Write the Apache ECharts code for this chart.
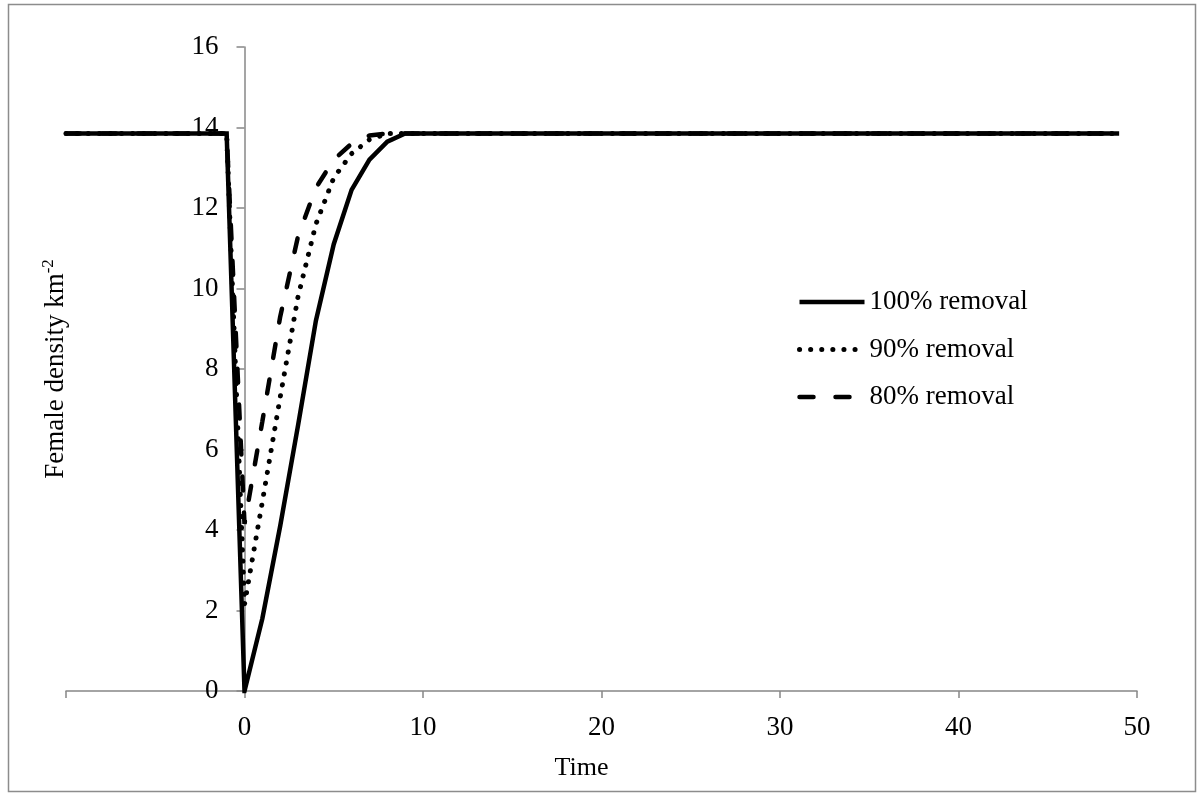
<!DOCTYPE html>
<html>
<head>
<meta charset="utf-8">
<script src="https://cdn.jsdelivr.net/npm/echarts@6/dist/echarts.min.js"></script>
<style>
html,body{margin:0;padding:0;background:#fff;}
#chart{width:1198px;height:793px;}
</style>
</head>
<body>
<div id="chart"></div>
<script>
var time = [-10,-9,-8,-7,-6,-5,-4,-3,-2,-1,0,1,2,3,4,5,6,7,8,9,10,11,12,13,14,15,16,17,18,19,20,21,22,23,24,25,26,27,28,29,30,31,32,33,34,35,36,37,38,39,40,41,42,43,44,45,46,47,48,49];
var removal100 = [13.85,13.85,13.85,13.85,13.85,13.85,13.85,13.85,13.85,13.85,0,1.8,4.1,6.6,9.2,11.1,12.45,13.2,13.65,13.85,13.85,13.85,13.85,13.85,13.85,13.85,13.85,13.85,13.85,13.85,13.85,13.85,13.85,13.85,13.85,13.85,13.85,13.85,13.85,13.85,13.85,13.85,13.85,13.85,13.85,13.85,13.85,13.85,13.85,13.85,13.85,13.85,13.85,13.85,13.85,13.85,13.85,13.85,13.85,13.85];
var removal90 = [13.85,13.85,13.85,13.85,13.85,13.85,13.85,13.85,13.85,13.85,2.15,4.7,7.3,9.8,11.6,12.75,13.35,13.7,13.85,13.85,13.85,13.85,13.85,13.85,13.85,13.85,13.85,13.85,13.85,13.85,13.85,13.85,13.85,13.85,13.85,13.85,13.85,13.85,13.85,13.85,13.85,13.85,13.85,13.85,13.85,13.85,13.85,13.85,13.85,13.85,13.85,13.85,13.85,13.85,13.85,13.85,13.85,13.85,13.85,13.85];
var removal80 = [13.85,13.85,13.85,13.85,13.85,13.85,13.85,13.85,13.85,13.85,4.15,6.7,9.3,11.3,12.5,13.2,13.6,13.8,13.85,13.85,13.85,13.85,13.85,13.85,13.85,13.85,13.85,13.85,13.85,13.85,13.85,13.85,13.85,13.85,13.85,13.85,13.85,13.85,13.85,13.85,13.85,13.85,13.85,13.85,13.85,13.85,13.85,13.85,13.85,13.85,13.85,13.85,13.85,13.85,13.85,13.85,13.85,13.85,13.85,13.85];
var seriesNames = ['100% removal','90% removal','80% removal'];
var xTicks = {min: -10, max: 50, interval: 10};
var yTicks = {min: 0, max: 16, interval: 2};

function pairs(xs, ys){ return xs.map(function(x,i){ return [x, ys[i]]; }); }

var FONT = '"Liberation Serif","Times New Roman",serif';
var AXIS_COLOR = '#878787';
var GRID_LEFT = 66, GRID_RIGHT = 61;
var PLOT_W = 1198 - GRID_LEFT - GRID_RIGHT;
// y axis sits at x = 0 on the value scale
var yAxisOffset = -PLOT_W * (0 - xTicks.min) / (xTicks.max - xTicks.min);

var lineStyles = [
  {color: '#000', width: 4.5, type: 'solid', cap: 'butt', join: 'miter'},
  {color: '#000', width: 5, type: [0.1, 11], cap: 'round'},
  {color: '#000', width: 4.5, type: [14, 22], cap: 'round'}
];

var chart = echarts.init(document.getElementById('chart'), null, {renderer:'canvas'});
chart.setOption({
  animation: false,
  backgroundColor: '#fff',
  grid: {left: GRID_LEFT, right: GRID_RIGHT, top: 47, bottom: 102, containLabel: false, outerBoundsMode: 'none'},
  graphic: [{
    type: 'rect', silent: true, z: -10,
    shape: {x: 8.5, y: 4.5, width: 1187, height: 787},
    style: {fill: 'none', stroke: '#8c8c8c', lineWidth: 1.5}
  }],
  legend: {
    data: seriesNames.map(function(n, i){
      return {name: n, itemStyle: {opacity: 0, borderWidth: 0}, lineStyle: lineStyles[i]};
    }),
    orient: 'vertical',
    left: 797, top: 287, padding: 0,
    itemWidth: 65, itemHeight: 30, itemGap: 17.5,
    textStyle: {fontFamily: FONT, fontSize: 27, color: '#000', lineHeight: 30},
    inactiveColor: '#000'
  },
  xAxis: {
    type: 'value',
    min: xTicks.min, max: xTicks.max, interval: xTicks.interval,
    name: 'Time', nameLocation: 'middle', nameGap: 62,
    nameTextStyle: {fontFamily: FONT, fontSize: 26, color: '#000', lineHeight: 30, padding: [0, 40, 0, 0]},
    axisLine: {show: true, onZero: true, lineStyle: {color: AXIS_COLOR, width: 1.5}},
    axisTick: {show: true, length: 7, lineStyle: {color: AXIS_COLOR, width: 1.5}},
    axisLabel: {
      fontFamily: FONT, fontSize: 27, color: '#000', margin: 23,
      formatter: function(v){ return v < 0 ? '' : String(v); }
    },
    splitLine: {show: false}
  },
  yAxis: {
    type: 'value',
    min: yTicks.min, max: yTicks.max, interval: yTicks.interval,
    offset: yAxisOffset,
    name: '{a|Female density km}{b|-2}', nameLocation: 'middle', nameGap: 174,
    nameTextStyle: {
      fontFamily: FONT, fontSize: 27, color: '#000',
      rich: {
        a: {fontFamily: FONT, fontSize: 27, color: '#000', lineHeight: 30},
        b: {fontFamily: FONT, fontSize: 17, color: '#000', lineHeight: 30, verticalAlign: 'top', padding: [0,0,10,0]}
      }
    },
    axisLine: {show: true, onZero: false, lineStyle: {color: AXIS_COLOR, width: 1.5}},
    axisTick: {show: true, length: 8, lineStyle: {color: AXIS_COLOR, width: 1.5}},
    axisLabel: {fontFamily: FONT, fontSize: 27, color: '#000', margin: 26},
    splitLine: {show: false}
  },
  series: [
    {
      name: seriesNames[2], type: 'line', data: pairs(time, removal80),
      symbol: 'none', z: 2, color: '#000',
      lineStyle: lineStyles[2]
    },
    {
      name: seriesNames[1], type: 'line', data: pairs(time, removal90),
      symbol: 'none', z: 3, color: '#000',
      lineStyle: lineStyles[1]
    },
    {
      name: seriesNames[0], type: 'line', data: pairs(time, removal100),
      symbol: 'none', z: 4, color: '#000',
      lineStyle: lineStyles[0]
    }
  ]
});
</script>
</body>
</html>
